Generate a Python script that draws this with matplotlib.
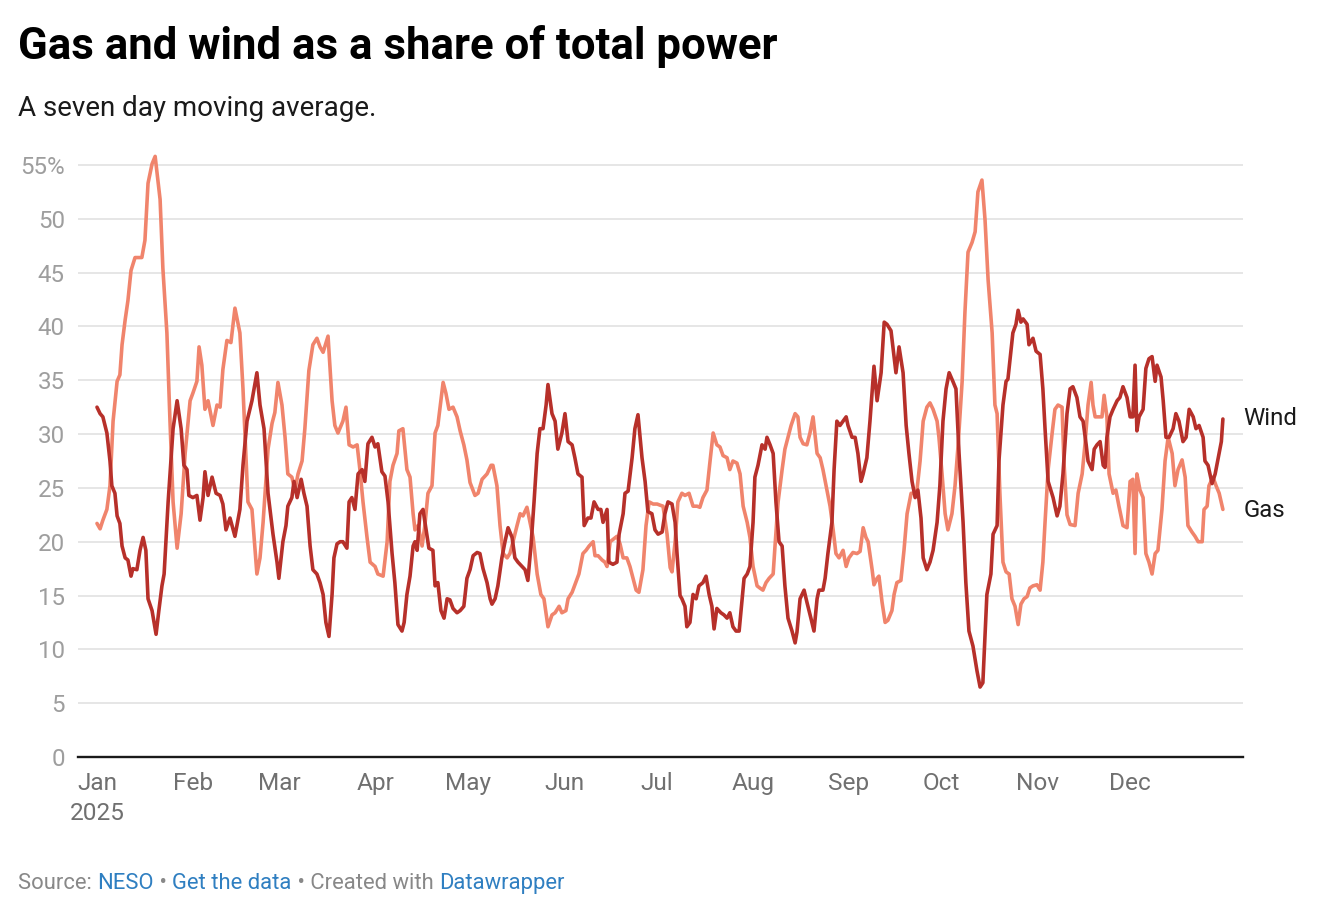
import matplotlib.pyplot as plt
import pandas as pd

plt.rcParams['font.family'] = ['Roboto', 'DejaVu Sans']

# days since 1 Jan 2025, and seven day average share (%)
gas_day = [
    0.0, 1.0, 1.9, 3.2, 4.2, 5.2, 6.5, 7.4, 8.1, 9.1,
    10.0, 11.0, 12.3, 14.5, 15.5, 16.5, 17.8, 18.8, 20.4, 21.3,
    22.6, 23.6, 24.6, 25.9, 27.2, 28.5, 30.1, 31.0, 32.3, 33.0,
    33.9, 34.9, 35.9, 37.5, 38.8, 39.8, 40.7, 42.0, 43.3, 44.6,
    46.2, 47.2, 48.8, 50.1, 51.7, 52.7, 53.7, 55.3, 56.6, 57.5,
    58.5, 59.8, 60.8, 61.7, 63.0, 64.0, 65.0, 66.3, 67.2, 68.5,
    69.8, 71.1, 72.1, 73.1, 74.7, 76.0, 76.9, 77.9, 79.5, 80.5,
    81.5, 82.8, 84.1, 85.0, 86.0, 87.3, 88.3, 89.9, 90.8, 92.5,
    93.8, 94.7, 95.7, 97.0, 97.6, 98.9, 100.2, 101.2, 102.2, 102.8,
    103.8, 105.1, 106.0, 107.0, 108.3, 109.3, 110.2, 111.9, 112.8, 113.8,
    115.1, 116.4, 117.4, 118.6, 119.6, 120.6, 122.2, 123.2, 124.5, 126.1,
    127.4, 128.0, 129.3, 130.3, 131.3, 132.6, 133.5, 134.5, 135.8, 136.8,
    137.7, 139.0, 140.0, 141.0, 142.3, 143.5, 144.5, 145.8, 147.1, 148.1,
    149.4, 150.3, 151.6, 152.3, 153.6, 154.5, 155.8, 157.1, 158.1, 159.1,
    160.4, 161.0, 162.0, 163.3, 164.2, 164.9, 165.9, 166.8, 168.1, 169.1,
    170.1, 171.3, 172.3, 173.3, 174.3, 175.2, 176.5, 177.5, 178.5, 179.8,
    181.1, 182.0, 183.0, 184.3, 185.3, 185.9, 186.9, 187.8, 189.1, 190.1,
    191.4, 192.7, 194.0, 194.9, 195.9, 197.2, 198.2, 199.2, 200.4, 201.4,
    202.4, 203.7, 204.6, 205.6, 206.9, 207.9, 208.9, 210.2, 211.1, 212.1,
    213.4, 214.3, 215.3, 216.3, 217.3, 218.6, 219.2, 220.2, 221.5, 222.4,
    223.4, 224.4, 225.7, 226.6, 227.3, 228.3, 229.5, 230.5, 231.5, 232.8,
    233.8, 234.7, 236.0, 237.0, 238.0, 238.9, 239.9, 241.2, 242.2, 243.1,
    244.4, 245.7, 246.7, 247.7, 248.6, 249.3, 250.6, 251.2, 252.2, 252.8,
    253.8, 254.8, 255.7, 257.0, 257.7, 258.6, 259.9, 260.9, 261.9, 263.2,
    264.1, 265.1, 266.1, 267.1, 268.3, 269.3, 270.3, 271.6, 272.2, 273.2,
    274.2, 275.1, 276.4, 277.4, 278.4, 279.7, 280.6, 281.6, 282.9, 283.9,
    284.8, 286.1, 287.1, 288.1, 289.4, 290.3, 291.0, 291.9, 292.9, 293.9,
    294.9, 295.8, 296.8, 297.8, 298.7, 299.7, 300.7, 301.6, 302.6, 303.9,
    304.9, 305.8, 306.5, 307.5, 308.8, 309.7, 310.7, 312.0, 312.6, 313.6,
    314.6, 316.2, 317.2, 318.5, 319.4, 320.4, 321.4, 322.0, 322.7, 323.6,
    324.9, 325.6, 326.5, 327.2, 328.5, 329.4, 330.4, 331.7, 333.0, 334.0,
    334.9, 335.6, 336.2, 337.2, 338.2, 339.1, 340.1, 341.1, 342.1, 343.0,
    344.3, 345.3, 346.3, 347.6, 348.5, 349.5, 350.8, 351.8, 352.7, 354.0,
    355.0, 356.0, 357.3, 357.9, 358.9, 359.5, 360.8, 361.8, 362.8, 364.0,
]
gas_share = [
    21.7, 21.2, 22.0, 23.0, 25.2, 31.2, 34.9, 35.5, 38.3, 40.6,
    42.4, 45.2, 46.4, 46.4, 48.0, 53.3, 55.1, 55.8, 51.8, 45.4,
    39.4, 31.2, 23.7, 19.4, 22.6, 28.2, 33.1, 33.8, 34.9, 38.1,
    36.4, 32.3, 33.1, 30.8, 32.7, 32.5, 36.0, 38.7, 38.5, 41.7,
    39.4, 34.2, 23.7, 23.0, 17.0, 18.5, 21.8, 28.6, 31.0, 32.0,
    34.8, 32.7, 29.7, 26.3, 26.0, 24.8, 26.3, 27.5, 30.5, 35.9,
    38.3, 38.9, 38.1, 37.6, 39.1, 33.1, 30.8, 30.1, 31.2, 32.5,
    29.0, 28.8, 29.0, 26.7, 23.7, 20.4, 18.1, 17.7, 17.0, 16.8,
    20.0, 25.6, 27.1, 28.2, 30.3, 30.5, 26.7, 26.0, 22.6, 21.1,
    21.5, 19.6, 21.5, 24.5, 25.2, 30.1, 30.8, 34.8, 33.8, 32.3,
    32.5, 31.6, 30.3, 29.0, 27.6, 25.5, 24.3, 24.5, 25.8, 26.3,
    27.1, 27.1, 25.2, 21.5, 18.9, 18.5, 18.9, 20.0, 21.5, 22.6,
    22.4, 23.2, 21.8, 20.4, 17.0, 15.1, 14.7, 12.1, 13.2, 13.4,
    14.0, 13.4, 13.6, 14.7, 15.3, 16.0, 17.0, 18.9, 19.2, 19.6,
    20.0, 18.7, 18.7, 18.3, 18.1, 17.7, 20.0, 20.2, 20.5, 19.8,
    18.5, 18.5, 17.7, 16.6, 15.5, 15.3, 17.4, 21.5, 23.7, 23.5,
    23.5, 23.4, 23.3, 20.7, 17.6, 17.2, 20.0, 23.7, 24.5, 24.3,
    24.5, 23.3, 23.3, 23.2, 24.1, 24.8, 27.5, 30.1, 29.0, 28.8,
    28.0, 27.8, 26.7, 27.5, 27.3, 26.3, 23.3, 21.8, 20.4, 17.7,
    15.9, 15.7, 15.5, 16.2, 16.6, 17.0, 19.6, 23.7, 26.7, 28.6,
    29.7, 30.8, 31.9, 31.6, 29.7, 29.1, 29.0, 30.1, 31.6, 28.2,
    27.8, 26.7, 24.8, 23.3, 21.1, 18.9, 18.5, 19.2, 17.7, 18.5,
    19.0, 18.9, 19.1, 21.3, 20.4, 20.0, 17.4, 16.0, 16.6, 16.8,
    14.4, 12.5, 12.7, 13.6, 15.1, 16.2, 16.4, 19.2, 22.6, 24.5,
    24.5, 24.8, 27.5, 31.2, 32.5, 32.9, 32.3, 31.2, 29.7, 26.3,
    22.6, 21.1, 22.6, 25.2, 29.0, 34.9, 41.3, 46.9, 47.8, 48.8,
    52.5, 53.6, 49.9, 44.3, 39.4, 32.7, 31.9, 24.5, 18.1, 17.2,
    17.0, 14.7, 14.0, 12.3, 14.2, 14.7, 14.9, 15.7, 15.9, 16.0,
    15.5, 18.1, 21.8, 26.7, 30.1, 32.3, 32.7, 32.5, 27.5, 22.5,
    21.6, 21.5, 24.5, 26.3, 29.0, 32.7, 34.8, 32.7, 31.6, 31.6,
    31.6, 33.6, 31.6, 26.3, 24.5, 24.8, 23.3, 21.5, 21.3, 25.6,
    25.8, 18.9, 26.3, 24.8, 24.1, 18.9, 18.1, 17.0, 18.9, 19.2,
    23.0, 27.5, 29.7, 28.2, 25.2, 26.7, 27.6, 26.0, 21.5, 20.9,
    20.5, 20.0, 20.0, 23.0, 23.3, 25.2, 26.0, 25.2, 24.5, 23.0,
]

wind_day = [
    0.0, 1.0, 1.9, 3.2, 4.2, 4.8, 5.8, 6.5, 7.4, 8.1,
    9.1, 10.0, 11.0, 11.6, 12.9, 13.9, 14.9, 15.8, 16.5, 17.8,
    19.1, 20.0, 21.0, 21.7, 23.0, 24.6, 25.9, 27.2, 28.1, 29.1,
    29.7, 31.0, 32.3, 33.3, 34.3, 34.9, 35.9, 37.2, 38.5, 39.8,
    40.7, 41.7, 43.0, 44.6, 46.2, 47.2, 48.5, 50.1, 51.7, 52.7,
    54.0, 55.3, 56.9, 58.2, 58.8, 60.1, 61.1, 61.7, 63.0, 63.7,
    64.7, 66.0, 66.9, 67.9, 68.9, 69.8, 71.1, 72.1, 73.1, 74.0,
    75.0, 76.0, 76.6, 77.6, 78.6, 79.5, 80.8, 81.5, 82.4, 83.4,
    84.4, 85.7, 86.6, 87.6, 88.9, 89.9, 90.8, 92.1, 93.1, 94.1,
    95.4, 96.3, 97.3, 98.6, 99.3, 100.2, 101.2, 102.2, 102.8, 103.5,
    104.4, 105.4, 106.4, 107.3, 108.6, 109.3, 110.2, 111.2, 112.2, 113.2,
    114.1, 115.1, 116.4, 117.4, 118.6, 119.6, 120.6, 121.6, 122.9, 123.8,
    124.8, 126.1, 127.1, 127.7, 128.7, 129.6, 130.9, 131.9, 132.9, 134.2,
    135.1, 136.1, 137.4, 138.4, 139.3, 140.3, 141.3, 142.3, 143.2, 144.2,
    145.2, 145.8, 147.1, 148.1, 149.0, 150.3, 151.3, 152.3, 153.6, 154.5,
    155.5, 156.8, 157.5, 158.7, 159.7, 160.7, 162.0, 162.9, 163.6, 164.9,
    165.5, 166.8, 168.1, 168.8, 170.1, 170.7, 171.7, 173.0, 173.9, 174.9,
    176.2, 177.2, 178.1, 179.4, 180.4, 181.4, 182.7, 183.6, 184.6, 185.9,
    186.9, 187.5, 188.5, 189.1, 190.1, 190.7, 191.7, 192.7, 193.7, 194.6,
    195.9, 196.9, 197.9, 198.8, 199.5, 200.4, 201.7, 202.7, 203.7, 204.6,
    205.6, 206.6, 207.6, 208.5, 209.2, 210.2, 211.1, 212.1, 212.7, 213.7,
    215.0, 216.0, 216.6, 217.6, 218.6, 219.5, 220.5, 221.5, 222.4, 223.4,
    224.7, 225.7, 226.3, 227.3, 228.6, 229.5, 230.8, 231.8, 232.8, 233.4,
    234.7, 235.4, 236.3, 237.6, 238.3, 239.2, 240.2, 241.2, 242.2, 242.8,
    244.1, 245.1, 246.0, 247.0, 247.7, 248.9, 249.9, 251.2, 252.2, 253.5,
    254.5, 255.4, 256.7, 257.4, 258.3, 259.3, 260.6, 261.6, 262.5, 263.5,
    264.5, 265.4, 266.4, 267.1, 268.3, 269.3, 270.3, 271.6, 272.5, 273.5,
    274.5, 275.5, 276.7, 277.7, 278.7, 280.0, 280.9, 281.9, 283.2, 284.5,
    285.5, 286.4, 287.1, 287.7, 289.0, 289.7, 291.0, 291.6, 292.9, 293.9,
    294.5, 295.2, 296.1, 297.1, 297.8, 298.7, 299.4, 300.7, 301.3, 302.6,
    303.6, 304.9, 305.8, 306.5, 307.5, 309.1, 310.4, 311.3, 312.3, 313.6,
    314.6, 315.5, 316.8, 317.8, 318.8, 319.8, 320.4, 321.7, 322.4, 323.3,
    324.3, 325.3, 325.9, 326.5, 327.5, 328.5, 329.8, 330.7, 331.7, 333.0,
    334.0, 334.9, 335.6, 336.2, 336.9, 338.2, 339.1, 340.1, 341.1, 342.1,
    342.7, 344.0, 344.7, 345.6, 346.6, 347.9, 348.8, 349.8, 351.1, 352.1,
    353.1, 354.4, 355.3, 356.3, 357.6, 358.2, 359.2, 360.5, 361.5, 362.5,
    363.5, 364.0,
]
wind_share = [
    32.5, 31.9, 31.6, 30.1, 27.5, 25.2, 24.5, 22.4, 21.7, 19.6,
    18.5, 18.3, 16.8, 17.5, 17.4, 19.2, 20.4, 19.2, 14.7, 13.6,
    11.4, 13.6, 15.9, 17.0, 23.7, 30.5, 33.1, 30.5, 27.1, 26.7,
    24.3, 24.1, 24.3, 22.0, 24.1, 26.5, 24.3, 26.0, 24.5, 24.3,
    23.5, 21.1, 22.2, 20.5, 23.0, 27.1, 31.2, 33.1, 35.7, 32.7,
    30.5, 24.5, 20.7, 18.1, 16.6, 20.0, 21.5, 23.3, 24.1, 25.6,
    24.1, 25.8, 24.5, 23.3, 19.6, 17.4, 17.0, 16.2, 15.1, 12.5,
    11.2, 15.1, 18.5, 19.8, 20.0, 20.0, 19.4, 23.7, 24.1, 23.0,
    26.3, 26.7, 25.6, 29.1, 29.7, 28.8, 29.1, 26.5, 26.1, 23.7,
    18.9, 16.2, 12.3, 11.7, 12.5, 15.1, 16.8, 19.6, 20.0, 19.2,
    22.6, 23.0, 21.1, 19.4, 19.2, 15.9, 16.2, 13.6, 12.9, 14.7,
    14.6, 13.8, 13.4, 13.6, 14.0, 16.6, 17.4, 18.7, 19.0, 18.9,
    17.5, 16.2, 14.7, 14.2, 14.7, 15.9, 18.5, 20.0, 21.3, 20.4,
    18.5, 18.1, 17.7, 17.4, 16.4, 19.6, 23.7, 28.2, 30.5, 30.5,
    32.7, 34.6, 31.9, 31.2, 28.6, 30.1, 31.9, 29.3, 29.0, 27.8,
    26.3, 26.0, 21.5, 22.2, 22.2, 23.7, 23.0, 23.0, 21.8, 23.0,
    18.1, 17.9, 18.1, 20.7, 22.6, 24.5, 24.7, 27.8, 30.5, 31.8,
    27.8, 25.6, 22.8, 22.6, 21.1, 20.7, 20.9, 22.6, 23.7, 23.5,
    21.8, 19.0, 15.0, 14.7, 14.0, 12.1, 12.5, 15.1, 14.7, 15.9,
    16.2, 16.8, 15.1, 14.0, 11.9, 13.8, 13.4, 13.2, 12.9, 13.4,
    12.1, 11.7, 11.7, 14.4, 16.6, 17.0, 17.7, 21.8, 26.0, 27.1,
    29.0, 28.6, 29.7, 29.0, 28.2, 23.7, 20.0, 19.6, 15.9, 12.9,
    11.7, 10.6, 11.6, 14.7, 15.5, 14.4, 12.9, 11.7, 14.7, 15.5,
    15.5, 16.6, 18.9, 21.8, 26.7, 31.2, 30.8, 31.2, 31.6, 30.8,
    29.7, 29.7, 28.2, 25.6, 26.3, 27.8, 31.2, 36.3, 33.1, 35.7,
    40.4, 40.2, 39.6, 37.9, 35.7, 38.1, 35.7, 30.8, 28.2, 25.6,
    24.1, 24.8, 22.2, 18.5, 17.4, 18.1, 19.2, 21.8, 25.2, 31.2,
    34.2, 35.7, 34.9, 34.2, 28.2, 21.8, 16.2, 11.7, 10.3, 8.0,
    6.5, 6.9, 11.4, 15.1, 17.0, 20.7, 21.5, 27.5, 32.7, 34.9,
    35.1, 37.0, 39.4, 40.2, 41.5, 40.4, 40.7, 40.2, 38.3, 38.9,
    37.7, 37.4, 34.2, 30.5, 25.6, 24.1, 22.4, 23.3, 26.3, 31.9,
    34.2, 34.4, 33.4, 31.6, 31.2, 29.0, 27.5, 26.7, 28.6, 29.0,
    29.3, 27.1, 26.9, 29.7, 31.6, 32.3, 33.1, 33.4, 34.4, 33.4,
    31.6, 31.6, 36.4, 30.3, 31.6, 32.3, 36.1, 37.0, 37.2, 34.9,
    36.4, 35.3, 33.1, 29.7, 29.7, 30.5, 31.9, 31.2, 29.3, 29.7,
    32.3, 31.6, 30.5, 30.8, 29.7, 27.5, 27.1, 25.4, 26.3, 27.8,
    29.3, 31.4,
]

month_labels = ['Jan\n2025', 'Feb', 'Mar', 'Apr', 'May', 'Jun',
                'Jul', 'Aug', 'Sep', 'Oct', 'Nov', 'Dec']
y_ticks = [0, 5, 10, 15, 20, 25, 30, 35, 40, 45, 50, 55]
y_labels = ['0', '5', '10', '15', '20', '25', '30', '35', '40', '45', '50', '55%']

start = pd.Timestamp('2025-01-01')
gas_dates = start + pd.to_timedelta(gas_day, unit='D')
wind_dates = start + pd.to_timedelta(wind_day, unit='D')
month_starts = pd.date_range('2025-01-01', periods=12, freq='MS')

W, H = 1334, 924
fig = plt.figure(figsize=(W / 100, H / 100), dpi=100)
fig.patch.set_facecolor('white')
ax = fig.add_axes([78 / W, (H - 757) / H, (1243 - 78) / W, 56.5 * 10.764 / H])

gas_col = '#f0846c'
wind_col = '#b7302a'
ax.plot(gas_dates, gas_share, color=gas_col, lw=2.6, solid_joinstyle='round',
        solid_capstyle='round', zorder=3)
ax.plot(wind_dates, wind_share, color=wind_col, lw=2.6, solid_joinstyle='round',
        solid_capstyle='round', zorder=4)

ax.set_xlim(start - pd.Timedelta(days=6.14), start + pd.Timedelta(days=370.5))
ax.set_ylim(0, 56.5)

ax.set_yticks(y_ticks)
ax.set_yticklabels(y_labels)
ax.set_xticks(month_starts)
ax.set_xticklabels(month_labels, linespacing=1.4)
ax.tick_params(axis='y', length=0, pad=9.5, labelsize=17.4, labelcolor='#9e9e9e')
ax.tick_params(axis='x', length=0, pad=11, labelsize=17.6, labelcolor='#707070')

ax.grid(axis='y', color='#e4e4e4', lw=1.3, zorder=0)
for side in ['top', 'right', 'left']:
    ax.spines[side].set_visible(False)
ax.spines['bottom'].set_color('#1a1a1a')
ax.spines['bottom'].set_linewidth(1.7)
ax.spines['bottom'].set_zorder(5)

# direct labels at the line ends
ax.annotate('Wind', xy=(wind_dates[-1], wind_share[-1]), xytext=(15, 0.5),
            textcoords='offset points', va='center', ha='left', fontsize=17.3, color='#1a1a1a')
ax.annotate('Gas', xy=(gas_dates[-1], gas_share[-1]), xytext=(15, -1),
            textcoords='offset points', va='center', ha='left', fontsize=17.3, color='#1a1a1a')

fig.text(18 / W, 1 - 59 / H, 'Gas and wind as a share of total power', fontsize=31.5,
         fontweight='bold', color='#000000', va='baseline', ha='left')
fig.text(18 / W, 1 - 116 / H, 'A seven day moving average.', fontsize=20,
         color='#1a1a1a', va='baseline', ha='left')

# footer with coloured links
grey = '#888888'
blue = '#2f7fc1'
parts = [('Source: ', grey), ('NESO', blue), (' \u2022 ', grey), ('Get the data', blue),
         (' \u2022 Created with ', grey), ('Datawrapper', blue)]
renderer = fig.canvas.get_renderer()
x = 18
for txt, col in parts:
    t = fig.text(x / W, 1 - 889 / H, txt, fontsize=15.8, color=col, va='baseline', ha='left')
    bb = t.get_window_extent(renderer)
    x += bb.width

fig.savefig('out.png', dpi=100, facecolor='white')
